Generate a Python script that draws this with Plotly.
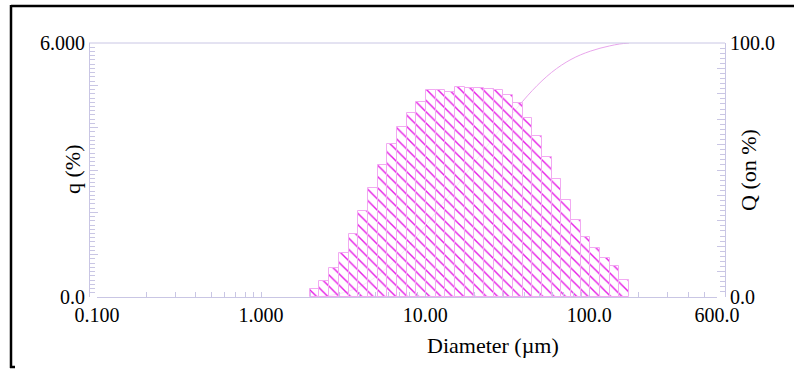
import numpy as np
import plotly.graph_objects as go

# ---- data ----
# size-class edges (µm), Horiba-style channels
edges = [1.981, 2.269, 2.599, 2.976, 3.409, 3.905, 4.472, 5.122, 5.867, 6.720,
         7.697, 8.816, 10.097, 11.565, 13.246, 15.172, 17.377, 19.904, 22.797,
         26.111, 29.907, 34.255, 39.234, 44.938, 51.471, 58.953, 67.523, 77.339,
         88.583, 101.46, 116.21, 133.10, 152.45, 174.61]
# frequency q (%) per class
q_values = [0.18, 0.385, 0.68, 1.03, 1.49, 2.02, 2.57, 3.12, 3.61, 4.01,
            4.34, 4.61, 4.88, 4.88, 4.84, 4.97, 4.93, 4.93, 4.91, 4.88,
            4.78, 4.58, 4.24, 3.80, 3.31, 2.78, 2.28, 1.82, 1.42, 1.15,
            0.91, 0.74, 0.40]

x_tick_vals = [0.1, 1, 10, 100, 600]
x_tick_text = ["0.100", "1.000", "10.00", "100.0", "600.0"]
q_tick_vals = [0, 1, 2, 3, 4, 5, 6]
q_tick_text = ["0.0", "", "", "", "", "", "6.000"]
Q_tick_vals = [0, 10, 20, 30, 40, 50, 60, 70, 80, 90, 100]
Q_tick_text = ["0.0", "", "", "", "", "", "", "", "", "", "100.0"]

x_title = "Diameter (µm)"
q_title = "q (%)"
Q_title = "Q (on %)"

# ---- derived ----
e = np.array(edges)
centers = (e[:-1] + e[1:]) / 2
widths = e[1:] - e[:-1]
qa = np.array(q_values)
Q_cum = np.concatenate([[0], np.cumsum(qa)]) / qa.sum() * 100

# x minor tick positions (2..9 per decade) with blank labels
minor_vals = [m * 10.0 ** d for d in range(-1, 3) for m in range(2, 10) if m * 10.0 ** d < 600]
all_x_vals = list(x_tick_vals) + minor_vals
all_x_text = list(x_tick_text) + [""] * len(minor_vals)

W, H = 794, 370
def px(x):
    return x / W
def py(y):
    return 1 - y / H

FONT = "Liberation Serif"
AX = "#c9c6e4"
MAG = "#e61ee6"

fig = go.Figure()

# cumulative curve (drawn first, under the bars)
fig.add_trace(go.Scatter(
    x=e, y=Q_cum, mode="lines", yaxis="y",
    line=dict(color="#e9a6ec", width=1, shape="spline"),
    showlegend=False, hoverinfo="skip"))

# histogram bars
fig.add_trace(go.Bar(
    x=centers, y=qa, width=widths, yaxis="y2",
    marker=dict(color="rgba(255,255,255,0.7)",
                line=dict(color="#f2aaf2", width=1),
                pattern=dict(shape="\\", fgcolor=MAG, bgcolor="rgba(255,255,255,0.7)",
                             size=8, solidity=0.18, fillmode="replace")),
    showlegend=False, hoverinfo="skip"))

tickfont = dict(family=FONT, size=20, color="black")

fig.update_layout(
    width=W, height=H,
    margin=dict(l=0, r=0, t=0, b=0),
    paper_bgcolor="white", plot_bgcolor="white",
    bargap=0,
    xaxis=dict(
        type="log", range=[-1, np.log10(600)],
        domain=[px(97), px(717)],
        tickmode="array", tickvals=all_x_vals, ticktext=all_x_text,
        ticks="inside", ticklen=5, tickcolor=AX, tickwidth=1,
        showline=True, linecolor=AX, linewidth=1,
        showgrid=False, zeroline=False, tickfont=tickfont,
        anchor="y", automargin=False),
    yaxis=dict(
        range=[0, 100], domain=[py(297), py(43)],
        side="right", anchor="free", position=px(725),
        tickmode="array", tickvals=Q_tick_vals, ticktext=Q_tick_text,
        ticks="inside", ticklen=8, tickcolor=AX, tickwidth=1,
        minor=dict(ticks="inside", ticklen=5, dtick=2, tick0=0, tickcolor=AX, tickwidth=1),
        showline=True, linecolor=AX, linewidth=1,
        showgrid=False, zeroline=False, tickfont=tickfont, automargin=False),
    yaxis2=dict(
        range=[0, 6], overlaying="y",
        side="left", anchor="free", position=px(89),
        tickmode="array", tickvals=q_tick_vals, ticktext=q_tick_text,
        ticks="inside", ticklen=8, tickcolor=AX, tickwidth=1,
        minor=dict(ticks="inside", ticklen=5, dtick=0.1, tick0=0, tickcolor=AX, tickwidth=1),
        showline=True, linecolor=AX, linewidth=1,
        showgrid=False, zeroline=False, tickfont=tickfont, automargin=False),
)

# frame lines
shapes = [
    dict(type="line", xref="paper", yref="paper", x0=px(89), x1=px(725), y0=py(43), y1=py(43),
         line=dict(color=AX, width=1)),
    dict(type="line", xref="paper", yref="paper", x0=px(11), x1=1, y0=py(6), y1=py(6),
         line=dict(color="black", width=2.5)),
    dict(type="line", xref="paper", yref="paper", x0=px(11), x1=px(11), y0=py(5), y1=py(368),
         line=dict(color="black", width=2.5)),
    dict(type="line", xref="paper", yref="paper", x0=px(10), x1=px(15), y0=py(367), y1=py(367),
         line=dict(color="black", width=2.5)),
]
fig.update_layout(shapes=shapes)

titlefont = dict(family=FONT, size=22, color="black")
fig.add_annotation(text=q_title, x=px(72), y=py(170), xref="paper", yref="paper",
                   textangle=-90, showarrow=False, font=titlefont, xanchor="center", yanchor="middle")
fig.add_annotation(text=Q_title, x=px(748), y=py(170), xref="paper", yref="paper",
                   textangle=-90, showarrow=False, font=titlefont, xanchor="center", yanchor="middle")
fig.add_annotation(text=x_title, x=px(493), y=py(345), xref="paper", yref="paper",
                   showarrow=False, font=titlefont, xanchor="center", yanchor="middle")

fig.write_html("out.html")
